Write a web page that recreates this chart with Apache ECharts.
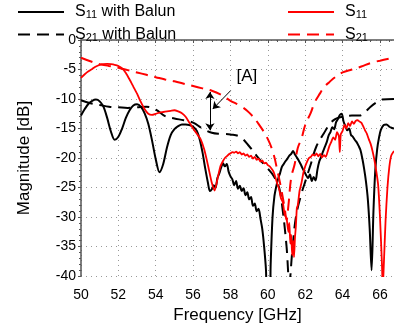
<!DOCTYPE html>
<html><head><meta charset="utf-8">
<script src="https://cdn.jsdelivr.net/npm/echarts@6/dist/echarts.min.js"></script>
<style>html,body{margin:0;padding:0;background:#fff}#c{width:394px;height:329px}</style>
</head><body><div id="c"></div>
<script>
// ---- data ----
const s11BalunFreq = [50.0,50.2,50.4,50.6,50.8,51.0,51.2,51.4,51.6,51.8,52.0,52.2,52.4,52.6,52.8,53.0,53.2,53.4,53.6,53.8,54.0,54.2,54.4,54.6,54.8,55.0,55.2,55.4,55.6,55.8,56.0,56.2,56.35,56.5,56.65,56.8,56.9,
57.0,57.1,57.2,57.3,57.4,57.5,57.6,57.7,57.8,57.9,58.0,58.1,58.2,58.3,58.4,58.5,58.6,58.7,58.8,58.9,59.0,59.1,59.2,59.3,59.4,59.5,59.6,59.7,59.8,59.9,59.95,60.1,60.15,60.25,60.35,60.45,60.55,60.65,60.75,60.85,60.95,61.05,61.15,61.25,61.35,61.45,61.55,61.65,61.75,61.85,61.95,62.05,62.15,62.25,62.35,62.45,62.55,62.65,62.75,62.85,62.95,63.05,63.15,63.25,63.35,63.45,63.55,63.65,63.75,63.85,63.95,64.05,64.15,64.25,64.35,64.45,64.55,64.65,64.75,64.85,64.95,65.05,65.15,65.25,65.35,65.45,65.55,65.65,65.75,65.85,65.95,66.05,66.2,66.35,66.5,66.65,66.75];
const s11BalunDb = [-12.8,-11.7,-10.8,-10.3,-10.1,-10.4,-11.3,-13.2,-15.5,-16.9,-16.4,-15.0,-13.2,-11.9,-11.1,-10.9,-11.3,-12.4,-14.2,-17.0,-20.2,-22.4,-21.0,-18.2,-16.1,-15.1,-14.6,-14.3,-14.3,-14.4,-14.7,-15.4,-16.8,-19.0,-21.8,-24.3,-25.6,
-25.3,-24.6,-25.0,-23.4,-22.6,-21.6,-20.9,-21.4,-21.0,-22.3,-23.1,-23.6,-24.6,-23.9,-25.2,-24.7,-25.6,-25.1,-26.3,-25.8,-27.0,-26.6,-28.1,-27.7,-29.0,-28.6,-30.2,-32.0,-35.0,-39.0,-44.0,-44.0,-38.0,-30.0,-26.5,-24.8,-23.5,-22.6,-21.5,-21.0,-20.5,-20.1,-19.6,-19.3,-18.8,-19.4,-19.9,-20.4,-21.0,-21.7,-22.3,-22.9,-23.4,-22.8,-23.9,-23.2,-23.8,-22.0,-20.6,-19.8,-18.9,-18.1,-17.3,-16.2,-15.6,-14.8,-15.1,-13.9,-13.4,-12.7,-12.5,-13.8,-14.6,-15.3,-15.0,-16.1,-16.4,-16.9,-17.3,-17.9,-18.6,-20.0,-21.8,-24.0,-27.0,-32.0,-39.0,-29.0,-22.0,-18.5,-16.5,-15.2,-14.4,-14.3,-14.7,-14.9,-15.0];

const s21BalunFreq = [50.0,50.5,51.0,51.5,52.0,52.5,53.0,53.5,54.0,54.5,55.0,55.5,56.0,56.5,57.0,57.5,58.0,58.5,59.0,59.5,60.0,60.3,60.6,60.8,61.0,61.15,61.3,61.5,61.8,62.0,62.3,62.6,63.0,63.3,63.6,64.0,64.5,64.9,65.2,65.5,65.8,66.1,66.75];
const s21BalunDb = [-10.2,-10.7,-11.0,-11.3,-11.4,-11.5,-11.4,-11.3,-11.8,-12.9,-13.3,-13.6,-14.0,-15.0,-15.7,-15.9,-16.0,-16.4,-18.0,-20.0,-21.8,-23.0,-25.0,-29.0,-35.0,-41.0,-36.0,-30.0,-26.0,-24.0,-21.0,-18.0,-15.8,-14.3,-13.4,-13.0,-12.8,-12.8,-12.2,-11.3,-10.6,-10.1,-10.0];

const s11Freq = [50.0,50.2,50.4,50.6,50.8,51.0,51.2,51.4,51.6,51.8,52.0,52.2,52.4,52.6,52.8,53.0,53.2,53.4,53.6,53.8,54.0,54.2,54.4,54.6,54.8,55.0,55.2,55.4,55.6,55.8,56.0,56.2,56.4,56.6,56.8,57.0,57.15,57.3,57.45,
57.6,57.7,57.8,57.9,58.0,58.1,58.2,58.3,58.4,58.5,58.6,58.7,58.8,58.9,59.0,59.1,59.2,59.3,59.4,59.5,59.6,59.7,59.8,59.9,60.0,60.1,60.2,60.3,60.4,60.5,60.6,60.7,60.8,60.9,61.0,61.1,61.15,61.2,61.25,61.3,61.35,61.4,61.45,61.5,61.55,61.6,61.7,61.8,61.9,62.0,62.1,62.2,62.3,62.4,62.5,62.6,62.7,62.8,62.9,63.0,63.1,63.2,63.3,63.4,63.5,63.6,63.7,63.8,63.85,63.9,64.0,64.1,64.2,64.3,64.4,64.5,64.6,64.7,64.8,64.9,65.0,65.1,65.2,65.3,65.4,65.5,65.6,65.7,65.8,65.9,66.0,66.1,66.15,66.2,66.3,66.4,66.5,66.6,66.75];
const s11Db = [-6.4,-5.8,-5.3,-4.9,-4.5,-4.2,-4.1,-4.05,-4.1,-4.2,-4.4,-4.8,-5.6,-6.7,-7.9,-9.1,-10.5,-11.7,-12.5,-12.7,-12.5,-12.3,-12.2,-12.1,-12.0,-11.9,-12.1,-12.4,-13.0,-14.0,-15.0,-15.9,-16.8,-18.6,-21.3,-24.2,-25.5,-23.6,-21.5,
-20.5,-20.0,-19.7,-19.4,-19.2,-19.0,-19.1,-18.9,-19.2,-19.0,-19.4,-19.2,-19.6,-19.4,-19.8,-19.6,-20.1,-19.8,-20.3,-20.1,-20.6,-20.4,-20.9,-20.8,-21.2,-21.4,-21.8,-22.3,-23.2,-24.3,-25.2,-26.8,-27.5,-29.6,-30.2,-32.5,-31.0,-34.5,-33.0,-36.5,-34.0,-36.8,-33.5,-31.5,-28.5,-28.0,-25.5,-24.2,-22.5,-21.4,-20.6,-20.0,-19.8,-19.4,-19.6,-19.2,-19.7,-19.3,-19.9,-19.5,-19.8,-18.9,-17.9,-17.2,-16.5,-16.9,-15.6,-16.3,-19.0,-16.0,-15.4,-14.4,-15.0,-14.1,-14.6,-13.8,-14.2,-13.7,-13.6,-13.8,-14.0,-14.6,-15.3,-15.9,-16.8,-17.6,-18.8,-20.3,-22.2,-24.5,-30.0,-37.5,-42.0,-38.5,-30.5,-25.0,-21.5,-19.6,-18.8];

const s21Freq = [50,50.5,51,51.5,52,52.5,53,53.5,54,54.5,55,55.5,56,56.5,57,57.5,58,58.5,59,59.5,60,60.3,60.5,60.7,60.9,61.0,61.1,61.25,61.43,61.6,61.8,62.0,62.3,62.5,62.8,63.0,63.3,63.6,64.0,64.5,65.0,65.5,66.0,66.75];
const s21Db = [-3.0,-3.6,-4.1,-4.4,-4.7,-5.1,-5.5,-5.9,-6.3,-6.7,-7.0,-7.4,-7.8,-8.2,-8.6,-9.3,-10.3,-11.1,-12.3,-14.2,-16.8,-19.3,-22.0,-25.0,-28.5,-30.5,-28.0,-23.3,-21.1,-18.3,-16.7,-14.4,-12.3,-10.6,-9.0,-8.0,-7.1,-6.3,-5.5,-5.0,-4.5,-3.9,-3.5,-3.0];

const xTicks = [50,52,54,56,58,60,62,64,66];
const yTicks = [0,-5,-10,-15,-20,-25,-30,-35,-40];
const seriesNames = ['S11 with Balun','S21 with Balun','S11','S21'];
const legendRich = {
  'S11 with Balun': '{f|S}{sub|11}{m| with Balun}',
  'S21 with Balun': '{f|S}{sub|21}{m| with Balun}',
  'S11': '{f|S}{sub|11}',
  'S21': '{f|S}{sub|21}'
};
// annotation positions (GHz, dB)
const arrowDouble = [[56.9,-8.8],[56.9,-15.3]];
const arrowPointer = [[58.0,-8.6],[57.05,-11.7]];
const labelA = [58.88,-6.2];

const zip = (f, v) => f.map((x, i) => [x, v[i]]);
const FONT = 'Liberation Sans, Arial, sans-serif';

const rich = {
  f: {fontSize: 16, fontFamily: FONT, color: '#000', padding: [0,0,0,6]},
  m: {fontSize: 16, fontFamily: FONT, color: '#000'},
  sub: {fontSize: 11, fontFamily: FONT, color: '#000', padding: [6,0,0,0]}
};
const legendBase = {
  orient: 'vertical', top: 4, padding: 0, itemWidth: 46, itemHeight: 14, itemGap: 6,
  itemStyle: {opacity: 0},
  formatter: n => legendRich[n],
  textStyle: {rich: rich}
};

const chart = echarts.init(document.getElementById('c'), null, {renderer: 'canvas'});
chart.setOption({
  animation: false,
  backgroundColor: '#fff',
  grid: {left: 81, top: 40, right: 0, bottom: 49, containLabel: false},
  legend: [
    Object.assign({}, legendBase, {left: 17, data: seriesNames.slice(0,2)}),
    Object.assign({}, legendBase, {left: 287, data: seriesNames.slice(2,4)})
  ],
  xAxis: {
    type: 'value', min: 50, max: 66.75, interval: 2,
    name: 'Frequency [GHz]', nameLocation: 'middle', nameGap: 26,
    nameTextStyle: {fontSize: 17, fontFamily: FONT, color: '#000'},
    axisLine: {show: true, lineStyle: {color: '#555', width: 1.5}},
    axisTick: {show: true, length: 3, lineStyle: {color: '#555'}},
    minorTick: {show: true, splitNumber: 4, length: 2, lineStyle: {color: '#555'}},
    axisLabel: {fontSize: 14, fontFamily: FONT, color: '#000', margin: 12, showMaxLabel: false,
      formatter: v => xTicks.includes(v) ? String(v) : ''},
    splitLine: {show: true, lineStyle: {color: '#999', type: [1,4], width: 1}}
  },
  yAxis: {
    type: 'value', min: -40, max: 0, interval: 5,
    name: 'Magnitude [dB]', nameLocation: 'middle', nameGap: 48,
    nameTextStyle: {fontSize: 17, fontFamily: FONT, color: '#000'},
    axisLine: {show: true, lineStyle: {color: '#555', width: 1.5}},
    axisTick: {show: true, length: 3, lineStyle: {color: '#555'}},
    minorTick: {show: true, splitNumber: 5, length: 2, lineStyle: {color: '#555'}},
    axisLabel: {fontSize: 14, fontFamily: FONT, color: '#000', margin: 5,
      formatter: v => yTicks.includes(v) ? String(v) : ''},
    splitLine: {show: true, lineStyle: {color: '#999', type: [1,4], width: 1}}
  },
  series: [
    {name: seriesNames[0], type: 'line', data: zip(s11BalunFreq, s11BalunDb), showSymbol: false, symbol: 'none', smooth: 0.3,
      lineStyle: {color: '#000', width: 2}, itemStyle: {color: '#000'}},
    {name: seriesNames[1], type: 'line', data: zip(s21BalunFreq, s21BalunDb), showSymbol: false, symbol: 'none', smooth: 0.4,
      lineStyle: {color: '#000', width: 2, type: [12,7]}, itemStyle: {color: '#000'},
      markLine: {
        silent: true, animation: false, symbolSize: 7,
        label: {show: false},
        lineStyle: {color: '#000', width: 1, type: 'solid'},
        data: [
          [{coord: arrowDouble[0], symbol: 'arrow'}, {coord: arrowDouble[1], symbol: 'arrow'}],
          [{coord: arrowPointer[0], symbol: 'none'}, {coord: arrowPointer[1], symbol: 'arrow'}]
        ]
      },
      markPoint: {
        silent: true, symbol: 'circle', symbolSize: 0,
        label: {show: true, position: 'inside', formatter: '[A]', fontSize: 17, fontFamily: FONT, color: '#000'},
        data: [{coord: labelA}]
      }},
    {name: seriesNames[2], type: 'line', data: zip(s11Freq, s11Db), showSymbol: false, symbol: 'none', smooth: 0.2,
      lineStyle: {color: '#ff0000', width: 1.8}, itemStyle: {color: '#ff0000'}},
    {name: seriesNames[3], type: 'line', data: zip(s21Freq, s21Db), showSymbol: false, symbol: 'none', smooth: 0.4,
      lineStyle: {color: '#ff0000', width: 2, type: [12,7]}, itemStyle: {color: '#ff0000'}}
  ]
});
</script>
</body></html>
